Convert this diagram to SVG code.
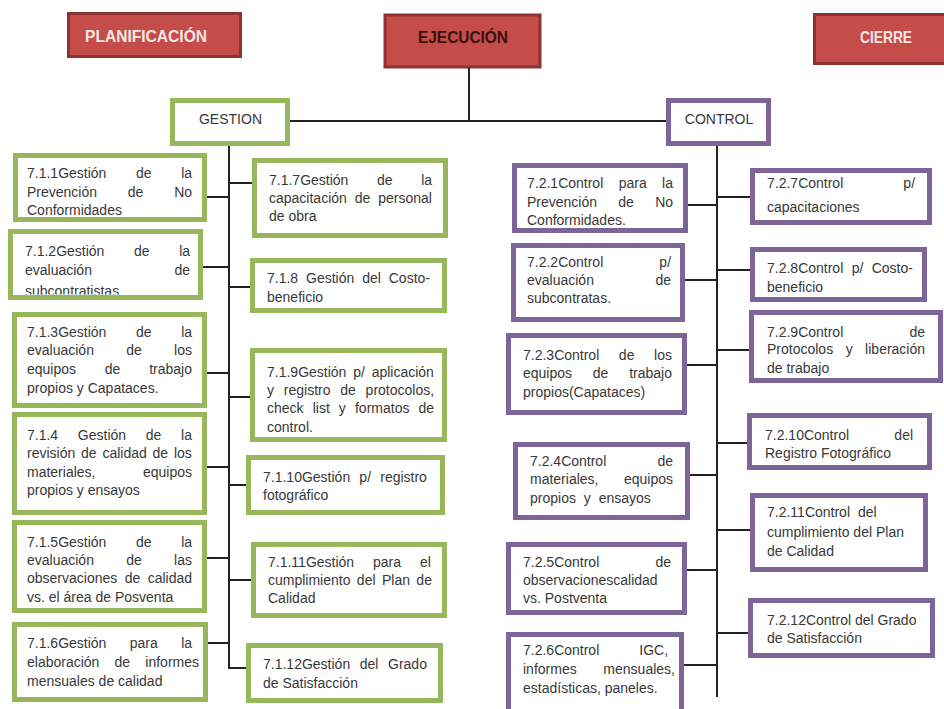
<svg xmlns="http://www.w3.org/2000/svg" width="944" height="709" viewBox="0 0 944 709">
  <style>
    .hd { fill: #c44c49; stroke: #8d3331; stroke-width: 3; }
    .hdt { font-family: "Liberation Sans", Arial, sans-serif; font-weight: bold; font-size: 17px; }
    .g { fill: #ffffff; stroke: #98b65a; stroke-width: 5; }
    .p { fill: #ffffff; stroke: #7d659a; stroke-width: 5; }
    .t { font-family: "Liberation Sans", Arial, sans-serif; font-size: 14px; fill: #383838; }
    .c { stroke: #222222; stroke-width: 2; fill: none; }
  </style>
  <defs>
    <clipPath id="clip712"><rect x="13" y="234" width="185" height="60.5"/></clipPath>
  </defs>
  <rect width="944" height="709" fill="#ffffff"/>

  <!-- phase headers -->
  <g id="planificacion">
    <rect class="hd" x="68.5" y="13.5" width="172" height="43"/>
    <text class="hdt" x="146" y="42" text-anchor="middle" fill="#f6e6e6" textLength="122" lengthAdjust="spacingAndGlyphs">PLANIFICACIÓN</text>
  </g>
  <g id="ejecucion">
    <rect class="hd" x="385" y="15" width="155" height="52" fill="#cf514f" stroke="#7a2a29" stroke-width="4"/>
    <text class="hdt" x="463" y="43" text-anchor="middle" fill="#3a1010" textLength="90" lengthAdjust="spacingAndGlyphs">EJECUCIÓN</text>
  </g>
  <g id="cierre">
    <rect class="hd" x="814.5" y="14.5" width="140" height="49"/>
    <text class="hdt" x="886" y="43" text-anchor="middle" fill="#f6e6e6" textLength="52" lengthAdjust="spacingAndGlyphs">CIERRE</text>
  </g>

  <!-- connectors -->
  <g id="connectors" class="c">
    <path d="M469 68 V121 M290 121 H667"/>
    <path d="M229 146 V668 H253"/>
    <path d="M207 197 H229 M203 267 H229 M207 373 H229 M207 467 H229 M207 558 H229 M208 643 H229"/>
    <path d="M229 183 H252 M229 287 H250 M229 397 H250 M229 485 H246 M229 580 H251"/>
    <path d="M717 146 V697"/>
    <path d="M688 205 H717 M685 280 H717 M687 365 H717 M690 475 H717 M687 570 H717 M684 665 H717"/>
    <path d="M717 197 H750 M717 270 H750 M717 350 H749 M717 443 H747 M717 530 H750 M717 633 H748"/>
  </g>

  <!-- branch heads -->
  <g id="gestion">
    <rect class="g" x="172.5" y="100.5" width="115" height="43"/>
    <text class="t" x="230.5" y="124" text-anchor="middle">GESTION</text>
  </g>
  <g id="control">
    <rect class="p" x="668.5" y="100.5" width="100" height="43"/>
    <text class="t" x="719" y="124" text-anchor="middle">CONTROL</text>
  </g>

  <!-- GESTION, left column -->
  <g id="g711">
    <rect class="g" x="15.5" y="155.5" width="189" height="64"/>
    <text class="t" x="27" y="178" style="word-spacing:25.7px">7.1.1Gestión de la</text>
    <text class="t" x="27" y="197" style="word-spacing:26.9px">Prevención de No</text>
    <text class="t" x="27" y="215">Conformidades</text>
  </g>
  <g id="g712">
    <rect class="g" x="10.5" y="231.5" width="190" height="66"/>
    <text class="t" x="25" y="256" style="word-spacing:25.7px">7.1.2Gestión de la</text>
    <text class="t" x="25" y="275" style="word-spacing:78.6px">evaluación de</text>
    <text class="t" x="25" y="295.5" clip-path="url(#clip712)">subcontratistas</text>
  </g>
  <g id="g713">
    <rect class="g" x="14.5" y="314.5" width="190" height="91"/>
    <text class="t" x="27" y="337" style="word-spacing:25.7px">7.1.3Gestión de la</text>
    <text class="t" x="27" y="355" style="word-spacing:28.4px">evaluación de los</text>
    <text class="t" x="27" y="374" style="word-spacing:24.9px">equipos de trabajo</text>
    <text class="t" x="27" y="393">propios y Capataces.</text>
  </g>
  <g id="g714">
    <rect class="g" x="14.5" y="414.5" width="190" height="98"/>
    <text class="t" x="27" y="440" style="word-spacing:15.8px">7.1.4 Gestión de la</text>
    <text class="t" x="27" y="458" style="word-spacing:1.9px">revisión de calidad de los</text>
    <text class="t" x="27" y="477" style="word-spacing:43.6px">materiales, equipos</text>
    <text class="t" x="27" y="495">propios y ensayos</text>
  </g>
  <g id="g715">
    <rect class="g" x="14.5" y="522.5" width="190" height="88"/>
    <text class="t" x="27" y="547" style="word-spacing:25.7px">7.1.5Gestión de la</text>
    <text class="t" x="27" y="565" style="word-spacing:28.4px">evaluación de las</text>
    <text class="t" x="27" y="583" style="word-spacing:3.5px">observaciones de calidad</text>
    <text class="t" x="27" y="602">vs. el área de Posventa</text>
  </g>
  <g id="g716">
    <rect class="g" x="14.5" y="624.5" width="191" height="75"/>
    <text class="t" x="27" y="648" style="word-spacing:19.5px">7.1.6Gestión para la</text>
    <text class="t" x="27" y="667" style="word-spacing:11.3px">elaboración de informes</text>
    <text class="t" x="27" y="686">mensuales de calidad</text>
  </g>

  <!-- GESTION, right column -->
  <g id="g717">
    <rect class="g" x="254.5" y="160.5" width="191" height="75"/>
    <text class="t" x="269" y="185" style="word-spacing:24.7px">7.1.7Gestión de la</text>
    <text class="t" x="269" y="203" style="word-spacing:4px">capacitación de personal</text>
    <text class="t" x="269" y="221">de obra</text>
  </g>
  <g id="g718">
    <rect class="g" x="252.5" y="260.5" width="192" height="50"/>
    <text class="t" x="267" y="283" style="word-spacing:4px">7.1.8 Gestión del Costo-</text>
    <text class="t" x="267" y="302">beneficio</text>
  </g>
  <g id="g719">
    <rect class="g" x="252.5" y="350.5" width="192" height="89"/>
    <text class="t" x="267" y="377" style="word-spacing:2.9px">7.1.9Gestión p/ aplicación</text>
    <text class="t" x="267" y="395" style="word-spacing:5.9px">y registro de protocolos,</text>
    <text class="t" x="267" y="413" style="word-spacing:5.2px">check list y formatos de</text>
    <text class="t" x="267" y="432">control.</text>
  </g>
  <g id="g7110">
    <rect class="g" x="248.5" y="457.5" width="194" height="55"/>
    <text class="t" x="263" y="482" style="word-spacing:5.3px">7.1.10Gestión p/ registro</text>
    <text class="t" x="263" y="500">fotográfico</text>
  </g>
  <g id="g7111">
    <rect class="g" x="253.5" y="544.5" width="191" height="71"/>
    <text class="t" x="268" y="567" style="word-spacing:15px">7.1.11Gestión para el</text>
    <text class="t" x="268" y="585" style="word-spacing:2.5px">cumplimiento del Plan de</text>
    <text class="t" x="268" y="603">Calidad</text>
  </g>
  <g id="g7112">
    <rect class="g" x="248.5" y="645.5" width="192" height="55"/>
    <text class="t" x="263" y="669" style="word-spacing:5.7px">7.1.12Gestión del Grado</text>
    <text class="t" x="263" y="688">de Satisfacción</text>
  </g>

  <!-- CONTROL, left column -->
  <g id="c721">
    <rect class="p" x="514.5" y="165.5" width="171" height="65"/>
    <text class="t" x="527" y="188" style="word-spacing:11.5px">7.2.1Control para la</text>
    <text class="t" x="527" y="207" style="word-spacing:17.4px">Prevención de No</text>
    <text class="t" x="527" y="225">Conformidades.</text>
  </g>
  <g id="c722">
    <rect class="p" x="513.5" y="245.5" width="169" height="74"/>
    <text class="t" x="527" y="267" style="word-spacing:52.2px">7.2.2Control p/</text>
    <text class="t" x="527" y="285" style="word-spacing:57.6px">evaluación de</text>
    <text class="t" x="527" y="303">subcontratas.</text>
  </g>
  <g id="c723">
    <rect class="p" x="508.5" y="335.5" width="176" height="77"/>
    <text class="t" x="523" y="360" style="word-spacing:15.7px">7.2.3Control de los</text>
    <text class="t" x="523" y="378" style="word-spacing:16.9px">equipos de trabajo</text>
    <text class="t" x="523" y="397">propios(Capataces)</text>
  </g>
  <g id="c724">
    <rect class="p" x="515.5" y="444.5" width="172" height="73"/>
    <text class="t" x="530" y="466" style="word-spacing:47.3px">7.2.4Control de</text>
    <text class="t" x="530" y="484" style="word-spacing:21.6px">materiales, equipos</text>
    <text class="t" x="530" y="503" style="word-spacing:4px">propios y ensayos</text>
  </g>
  <g id="c725">
    <rect class="p" x="508.5" y="544.5" width="176" height="68"/>
    <text class="t" x="523" y="567" style="word-spacing:52.3px">7.2.5Control de</text>
    <text class="t" x="523" y="585">observacionescalidad</text>
    <text class="t" x="523" y="603">vs. Postventa</text>
  </g>
  <g id="c726">
    <rect class="p" x="508.5" y="634.5" width="173" height="82"/>
    <text class="t" x="523" y="655" style="word-spacing:36.1px">7.2.6Control IGC,</text>
    <text class="t" x="523" y="674" style="word-spacing:22.8px">informes mensuales,</text>
    <text class="t" x="523" y="693">estadísticas, paneles.</text>
  </g>

  <!-- CONTROL, right column -->
  <g id="c727">
    <rect class="p" x="752.5" y="170.5" width="177" height="52"/>
    <text class="t" x="767" y="188" style="word-spacing:56.2px">7.2.7Control p/</text>
    <text class="t" x="767" y="212">capacitaciones</text>
  </g>
  <g id="c728">
    <rect class="p" x="752.5" y="249.5" width="172" height="50"/>
    <text class="t" x="767" y="273" style="word-spacing:4.5px">7.2.8Control p/ Costo-</text>
    <text class="t" x="767" y="292">beneficio</text>
  </g>
  <g id="c729">
    <rect class="p" x="751.5" y="312.5" width="189" height="68"/>
    <text class="t" x="767" y="337" style="word-spacing:62.3px">7.2.9Control de</text>
    <text class="t" x="767" y="354" style="word-spacing:8.6px">Protocolos y liberación</text>
    <text class="t" x="767" y="373">de trabajo</text>
  </g>
  <g id="c7210">
    <rect class="p" x="749.5" y="415.5" width="180" height="52"/>
    <text class="t" x="765" y="440" style="word-spacing:41.4px">7.2.10Control del</text>
    <text class="t" x="765" y="458">Registro Fotográfico</text>
  </g>
  <g id="c7211">
    <rect class="p" x="752.5" y="495.5" width="173" height="74"/>
    <text class="t" x="767" y="517" style="word-spacing:4px">7.2.11Control del</text>
    <text class="t" x="767" y="537">cumplimiento del Plan</text>
    <text class="t" x="767" y="556">de Calidad</text>
  </g>
  <g id="c7212">
    <rect class="p" x="750.5" y="600.5" width="182" height="55"/>
    <text class="t" x="767" y="625">7.2.12Control del Grado</text>
    <text class="t" x="767" y="643">de Satisfacción</text>
  </g>
</svg>
